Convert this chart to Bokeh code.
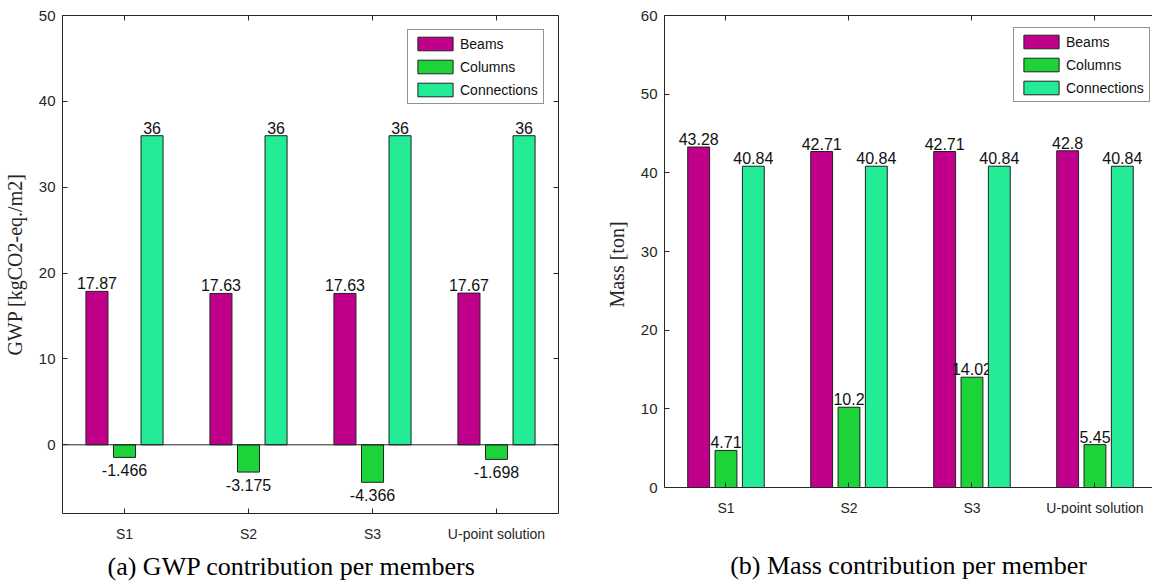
from bokeh.plotting import figure
from bokeh.models import (ColumnDataSource, FixedTicker, LinearAxis, Range1d,
                          Legend, LegendItem, Title, Span)
from bokeh.layouts import row
from bokeh.embed import file_html
from bokeh.resources import INLINE
from bokeh.core.properties import value

# ---------------- data ----------------
categories = ["S1", "S2", "S3", "U-point solution"]
series = ["Beams", "Columns", "Connections"]

gwp_beams = [17.87, 17.63, 17.63, 17.67]
gwp_columns = [-1.466, -3.175, -4.366, -1.698]
gwp_connections = [36, 36, 36, 36]

mass_beams = [43.28, 42.71, 42.71, 42.8]
mass_columns = [4.71, 10.2, 14.02, 5.45]
mass_connections = [40.84, 40.84, 40.84, 40.84]

gwp_yticks = [0, 10, 20, 30, 40, 50]
mass_yticks = [0, 10, 20, 30, 40, 50, 60]

colors = ["#C0008A", "#1DD33A", "#23EB96"]

# ---------------- style ----------------
SANS = "Liberation Sans"
SERIF = "Liberation Serif"
AX_COLOR = "#262626"
GROUP_OFFSET = 0.2222
BAR_W = 0.1778
H = 586


def fmt(v):
    return f"{v:g}"


def hidden_axis(ticks):
    return LinearAxis(ticker=FixedTicker(ticks=ticks),
                      major_label_text_color=None,
                      major_label_text_font_size="8px",
                      major_label_standoff=0,
                      major_tick_in=5, major_tick_out=0,
                      minor_tick_line_color=None,
                      major_tick_line_color=AX_COLOR,
                      axis_line_color=AX_COLOR)


def make_panel(values_list, yticks, xrange, yrange, ylabel, caption, width,
               borders, cap_offset, legend_loc, boxed):
    bl, br, bt, bb = borders
    p = figure(width=width, height=H, output_backend="svg",
               toolbar_location=None, x_range=Range1d(*xrange),
               y_range=Range1d(*yrange),
               min_border_left=bl, min_border_right=br,
               min_border_top=bt, min_border_bottom=bb)
    p.grid.visible = False
    p.background_fill_color = "white"
    p.border_fill_color = "white"
    p.outline_line_color = AX_COLOR if boxed else None

    items = []
    for i, (name, vals, col) in enumerate(zip(series, values_list, colors)):
        xs = [k + 1 + (i - 1) * GROUP_OFFSET for k in range(len(categories))]
        src = ColumnDataSource(dict(x=xs, top=vals))
        r = p.vbar(x="x", top="top", bottom=0, width=BAR_W, source=src,
                   fill_color=col, line_color="#222222", line_width=1)
        items.append(LegendItem(label=name, renderers=[r]))
        pos = ColumnDataSource(dict(x=[x for x, v in zip(xs, vals) if v >= 0],
                                    y=[v for v in vals if v >= 0],
                                    t=[fmt(v) for v in vals if v >= 0]))
        neg = ColumnDataSource(dict(x=[x for x, v in zip(xs, vals) if v < 0],
                                    y=[v for v in vals if v < 0],
                                    t=[fmt(v) for v in vals if v < 0]))
        p.text(x="x", y="y", text="t", source=pos, text_align="center",
               text_baseline="bottom", y_offset=-2,
               text_font=value(SANS), text_font_size="16px",
               text_color="#111111")
        p.text(x="x", y="y", text="t", source=neg, text_align="center",
               text_baseline="top", y_offset=7,
               text_font=value(SANS), text_font_size="16px",
               text_color="#111111")

    if yrange[0] < 0 and boxed:
        p.add_layout(Span(location=0, dimension="width", line_color="#222222",
                          line_width=1))

    xa = p.xaxis[0]
    xa.ticker = FixedTicker(ticks=[1, 2, 3, 4])
    xa.major_label_overrides = {i + 1: c for i, c in enumerate(categories)}
    ya = p.yaxis[0]
    ya.ticker = FixedTicker(ticks=yticks)
    for ax in (xa, ya):
        ax.major_tick_in = 5
        ax.major_tick_out = 0
        ax.minor_tick_line_color = None
        ax.major_tick_line_color = AX_COLOR
        ax.axis_line_color = None if boxed else AX_COLOR
        ax.major_label_text_font = SANS
        ax.major_label_text_color = AX_COLOR
    xa.major_label_text_font_size = "14px"
    ya.major_label_text_font_size = "15px"
    xa.major_label_standoff = 12
    ya.major_label_standoff = 7
    ya.axis_label = ylabel
    ya.axis_label_text_font = SERIF
    ya.axis_label_text_font_style = "normal"
    ya.axis_label_text_font_size = "20px"
    ya.axis_label_text_color = AX_COLOR
    ya.axis_label_standoff = 10

    top = hidden_axis([1, 2, 3, 4])
    if boxed:
        top.axis_line_color = None
    p.add_layout(top, "above")

    if boxed:
        rt = hidden_axis(yticks)
        rt.axis_line_color = None
        p.add_layout(rt, "right")
        p.add_layout(Title(text=caption, align="left", offset=cap_offset,
                           text_font=SERIF, text_font_size="26px",
                           text_font_style="normal", text_color="black",
                           standoff=10), "below")
    else:
        # x axis sits at y = 0; a second, tickless axis below carries the caption
        xa.fixed_location = 0
        ya.bounds = (0, yticks[-1])
        cap_axis = LinearAxis(ticker=FixedTicker(ticks=[1, 2, 3, 4]),
                              major_label_text_color=None,
                              major_label_text_font_size="8px",
                              major_label_standoff=0,
                              major_tick_in=0, major_tick_out=0,
                              major_tick_line_color=None,
                              minor_tick_line_color=None,
                              axis_line_color=None,
                              axis_label=caption,
                              axis_label_text_font=SERIF,
                              axis_label_text_font_size="26px",
                              axis_label_text_font_style="normal",
                              axis_label_text_color="black",
                              axis_label_standoff=cap_offset)
        p.add_layout(cap_axis, "below")

    legend = Legend(items=items, location=legend_loc, margin=0,
                    border_line_color=AX_COLOR, border_line_width=1,
                    background_fill_color="white", background_fill_alpha=1,
                    label_text_font=SANS, label_text_font_size="14px",
                    label_text_color="#111111",
                    glyph_width=44, glyph_height=17, label_height=17,
                    spacing=6, padding=5, label_standoff=3)
    p.add_layout(legend)
    return p


# left panel: frame 62..558 (x), 15..513 (y)
pA = make_panel([gwp_beams, gwp_columns, gwp_connections], gwp_yticks,
                (0.5, 4.5), (-8, 50),
                "GWP [kgCO2-eq./m2]", "(a) GWP contribution per members",
                602, (62, 44, 15, H - 513), 45, (345, 409), True)
# right panel: frame starts at 660, runs past the page edge (cut as in source)
pB = make_panel([mass_beams, mass_columns, mass_connections], mass_yticks,
                (0.5, 0.5 + 492 / 124), (-26 * 60 / 472, 60),
                "Mass [ton]", "(b) Mass contribution per member",
                550, (58, 0, 15, H - 513), 37, (349, 411), False)

layout = row(pA, pB)
open("out.html", "w").write(file_html(layout, INLINE))
